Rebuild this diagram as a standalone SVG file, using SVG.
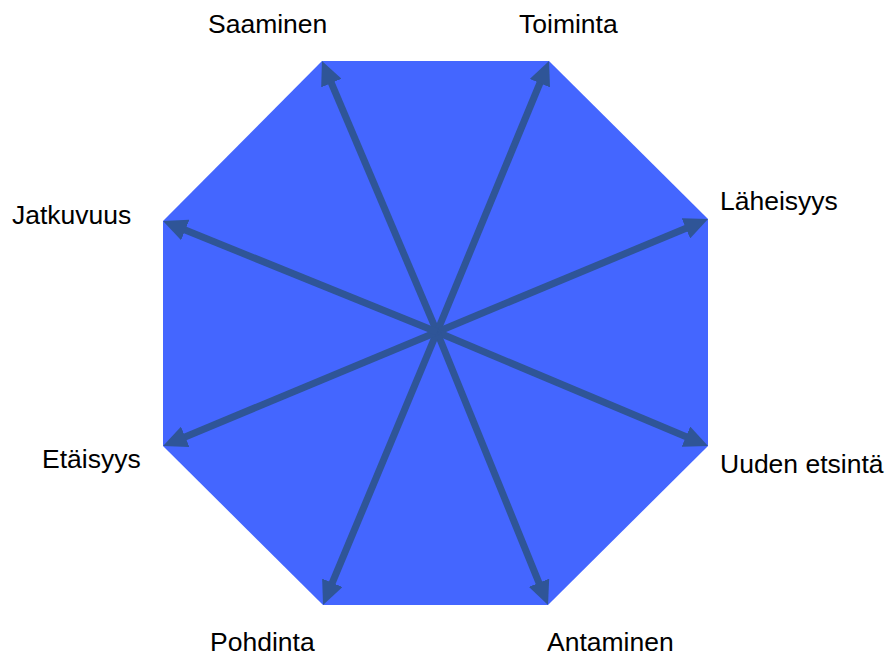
<svg xmlns="http://www.w3.org/2000/svg" width="895" height="658" viewBox="0 0 895 658">
<style>
.lbl{font-family:"Liberation Sans",Arial,sans-serif;font-size:26.5px;fill:#000}
.arr{stroke:#2F5597;stroke-width:7;fill:none;marker-end:url(#ah)}
</style>
<defs>
<marker id="ah" markerUnits="userSpaceOnUse" viewBox="0 0 24 22" markerWidth="24" markerHeight="22" refX="8" refY="11" orient="auto">
<path d="M0,0 L24,11 L0,22 z" fill="#2F5597"/>
</marker>
</defs>
<rect width="895" height="658" fill="#fff"/>
<g id="octagon">
<polygon points="322,61 549,61 708,219 708,446 548,605 323,605 163,446 163,221" fill="#4466FF"/>
</g>
<g id="connectors">
<line class="arr" x1="437" y1="332" x2="328.2" y2="75.7"/>
<line class="arr" x1="437" y1="332" x2="542.9" y2="75.8"/>
<line class="arr" x1="437" y1="332" x2="693.3" y2="225.2"/>
<line class="arr" x1="437" y1="332" x2="693.3" y2="439.8"/>
<line class="arr" x1="437" y1="332" x2="542.0" y2="590.2"/>
<line class="arr" x1="437" y1="332" x2="329.2" y2="590.2"/>
<line class="arr" x1="437" y1="332" x2="177.8" y2="439.9"/>
<line class="arr" x1="437" y1="332" x2="177.8" y2="227.0"/>
</g>
<g id="saaminen"><text class="lbl" x="208" y="33">Saaminen</text></g>
<g id="toiminta"><text class="lbl" x="519" y="33">Toiminta</text></g>
<g id="laheisyys"><text class="lbl" x="720" y="210">Läheisyys</text></g>
<g id="uuden-etsinta"><text class="lbl" x="720" y="473">Uuden etsintä</text></g>
<g id="antaminen"><text class="lbl" x="547" y="651">Antaminen</text></g>
<g id="pohdinta"><text class="lbl" x="210" y="651">Pohdinta</text></g>
<g id="etaisyys"><text class="lbl" x="42" y="468">Etäisyys</text></g>
<g id="jatkuvuus"><text class="lbl" x="12" y="224">Jatkuvuus</text></g>
</svg>
